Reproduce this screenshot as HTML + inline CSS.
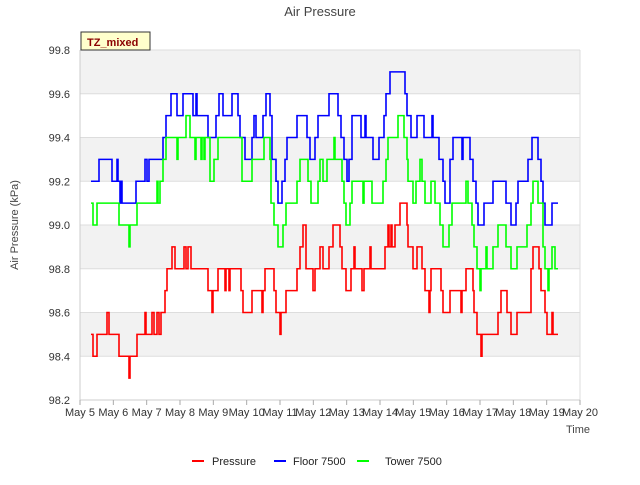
<!DOCTYPE html>
<html><head><meta charset="utf-8"><style>
body{margin:0;background:#fff;font-family:"Liberation Sans",sans-serif}
svg text{font-family:"Liberation Sans",sans-serif}
</style></head><body>
<svg id="chart" width="640" height="480" xmlns="http://www.w3.org/2000/svg">
<text x="320" y="16" text-anchor="middle" font-size="13" fill="#444">Air Pressure</text>
<g id="bands"></g>
<g id="grid"></g>
<g id="yticks"></g>
<g id="xticks"></g>
<g id="series"></g>
<text transform="translate(18,225) rotate(-90)" text-anchor="middle" font-size="11" fill="#444">Air Pressure (kPa)</text>
<text x="566" y="433" font-size="11" fill="#444">Time</text>
<g>
<rect x="81" y="32" width="69" height="18" fill="#ffffcc" stroke="#333" stroke-width="1"/>
<text x="87" y="46" font-size="11" font-weight="bold" fill="#8b0000">TZ_mixed</text>
</g>
<g>
<g><line x1="192" y1="461" x2="204" y2="461" stroke="#ff0000" stroke-width="2"/><text x="212" y="465" font-size="11" fill="#222">Pressure</text></g>
<g><line x1="274" y1="461" x2="286" y2="461" stroke="#0000ff" stroke-width="2"/><text x="293" y="465" font-size="11" fill="#222">Floor 7500</text></g>
<g><line x1="357" y1="461" x2="369" y2="461" stroke="#00ff00" stroke-width="2"/><text x="385" y="465" font-size="11" fill="#222">Tower 7500</text></g>
</g>
</svg>
<script>
const xTickLabels=["May 5","May 6","May 7","May 8","May 9","May 10","May 11","May 12","May 13","May 14","May 15","May 16","May 17","May 18","May 19","May 20"];
const yTickValues=[98.2,98.4,98.6,98.8,99.0,99.2,99.4,99.6,99.8];
const endTime=14.34;
const pressureT=[0.33,0.39,0.51,0.81,0.87,1.17,1.47,1.50,1.71,1.95,1.98,2.16,2.22,2.31,2.37,2.43,2.55,2.61,2.76,2.85,3.12,3.18,3.24,3.33,3.84,3.96,3.99,4.14,4.35,4.38,4.47,4.50,4.83,4.89,5.16,5.46,5.49,5.55,5.82,5.88,6.00,6.03,6.18,6.51,6.60,6.69,6.78,6.99,7.05,7.20,7.29,7.47,7.59,7.80,7.86,7.98,8.13,8.22,8.25,8.46,8.52,8.70,8.73,9.15,9.24,9.27,9.33,9.36,9.45,9.60,9.78,9.81,9.84,9.99,10.11,10.26,10.35,10.47,10.50,10.53,10.83,10.89,11.10,11.43,11.46,11.58,11.79,11.82,11.91,12.03,12.06,12.54,12.63,12.81,12.93,13.11,13.53,13.59,13.77,13.83,13.95,14.01,14.16,14.19];
const pressureV=[98.5,98.4,98.5,98.6,98.5,98.4,98.3,98.4,98.5,98.6,98.5,98.6,98.5,98.6,98.5,98.6,98.7,98.8,98.9,98.8,98.9,98.8,98.9,98.8,98.7,98.6,98.7,98.8,98.7,98.8,98.7,98.8,98.7,98.6,98.7,98.6,98.7,98.8,98.7,98.6,98.5,98.6,98.7,98.8,98.9,99.0,98.8,98.7,98.8,98.9,98.8,98.9,99.0,98.9,98.8,98.7,98.8,98.9,98.8,98.7,98.8,98.9,98.8,98.9,99.0,98.9,99.0,98.9,99.0,99.1,99.1,99.0,98.9,98.8,98.9,98.8,98.7,98.6,98.7,98.8,98.7,98.6,98.7,98.6,98.7,98.8,98.7,98.6,98.5,98.4,98.5,98.6,98.7,98.6,98.5,98.6,98.8,98.9,98.8,98.7,98.6,98.5,98.6,98.5];
const floorT=[0.33,0.57,0.96,1.11,1.14,1.20,1.23,1.26,1.68,1.95,2.01,2.07,2.49,2.58,2.73,2.91,3.09,3.39,3.48,3.51,3.84,4.08,4.17,4.29,4.56,4.74,4.80,4.95,5.16,5.22,5.28,5.49,5.58,5.70,5.76,5.88,5.94,6.06,6.15,6.21,6.51,6.81,6.90,7.05,7.14,7.47,7.74,7.83,7.92,8.01,8.07,8.16,8.43,8.55,8.58,8.79,8.97,9.12,9.18,9.30,9.75,9.81,9.93,10.11,10.32,10.56,10.59,10.77,10.89,10.95,11.10,11.19,11.46,11.49,11.70,11.79,11.88,11.94,12.12,12.39,12.78,12.93,13.08,13.14,13.44,13.56,13.74,13.83,13.89,13.95,14.16];
const floorV=[99.2,99.3,99.2,99.3,99.2,99.1,99.2,99.1,99.2,99.3,99.2,99.3,99.4,99.5,99.6,99.5,99.6,99.5,99.6,99.5,99.4,99.5,99.6,99.5,99.6,99.5,99.4,99.3,99.4,99.5,99.4,99.5,99.6,99.5,99.3,99.2,99.1,99.2,99.3,99.4,99.5,99.4,99.3,99.4,99.5,99.6,99.5,99.4,99.3,99.2,99.3,99.5,99.4,99.5,99.4,99.3,99.4,99.5,99.6,99.7,99.6,99.5,99.4,99.5,99.4,99.5,99.4,99.3,99.2,99.1,99.3,99.4,99.3,99.4,99.3,99.2,99.1,99.0,99.1,99.2,99.1,99.0,99.1,99.2,99.3,99.4,99.3,99.2,99.1,99.0,99.1];
const towerT=[0.33,0.39,0.51,1.17,1.47,1.50,1.71,2.31,2.34,2.40,2.49,2.58,2.91,2.94,3.18,3.30,3.45,3.48,3.63,3.66,3.72,3.75,3.90,4.02,4.14,4.86,5.16,5.52,5.70,5.73,5.82,5.94,6.09,6.18,6.51,6.60,6.84,6.93,7.14,7.20,7.29,7.41,7.62,7.65,7.86,7.92,7.98,8.10,8.16,8.49,8.52,8.76,9.09,9.18,9.24,9.54,9.72,9.81,9.84,9.99,10.08,10.20,10.26,10.35,10.53,10.65,10.80,10.89,11.07,11.16,11.58,11.64,11.76,11.82,11.91,12.00,12.03,12.18,12.21,12.39,12.54,12.78,12.93,13.11,13.41,13.53,13.59,13.74,13.89,13.95,14.04,14.07,14.16,14.25];
const towerV=[99.1,99.0,99.1,99.0,98.9,99.0,99.1,99.2,99.1,99.2,99.3,99.4,99.3,99.4,99.5,99.4,99.3,99.4,99.3,99.4,99.3,99.4,99.2,99.3,99.4,99.2,99.3,99.4,99.3,99.1,99.0,98.9,99.0,99.1,99.2,99.3,99.2,99.1,99.2,99.3,99.2,99.3,99.4,99.3,99.2,99.1,99.0,99.1,99.2,99.1,99.2,99.1,99.2,99.3,99.4,99.5,99.4,99.3,99.2,99.1,99.2,99.3,99.2,99.1,99.2,99.1,99.0,98.9,99.0,99.1,99.2,99.1,99.0,98.9,98.8,98.7,98.8,98.9,98.8,98.9,99.0,98.9,98.8,98.9,99.0,99.1,99.2,99.1,98.9,98.8,98.7,98.8,98.9,98.8];

const NS="http://www.w3.org/2000/svg";
const L=80,R=580,T=50,B=400,ymin=98.2,ymax=99.8,tmax=15;
const xs=t=>L+(R-L)*t/tmax;
const ys=v=>B-(B-T)*(v-ymin)/(ymax-ymin);
function mk(tag,attrs,parent){const e=document.createElementNS(NS,tag);for(const k in attrs)e.setAttribute(k,attrs[k]);parent.appendChild(e);return e;}
const bands=document.getElementById('bands'),grid=document.getElementById('grid'),yt=document.getElementById('yticks'),xt=document.getElementById('xticks'),ser=document.getElementById('series');
for(let i=0;i<yTickValues.length-1;i++){
  const r=mk('rect',{x:L,y:ys(yTickValues[i+1]),width:R-L,height:ys(yTickValues[i])-ys(yTickValues[i+1]),fill:(i%2===1)?'#f2f2f2':'#ffffff'},bands);
  
  
}
yTickValues.forEach(v=>{
  const g=mk('line',{x1:L,x2:R,y1:ys(v),y2:ys(v),stroke:'#dddddd','stroke-width':1},grid);
  
  
  const t=mk('text',{x:L-10,y:ys(v)+4,'text-anchor':'end','font-size':11,fill:'#333'},yt);
  t.textContent=v.toFixed(1);
  
  
});
mk('line',{x1:L,x2:L,y1:T,y2:B,stroke:'#cccccc'},grid);
mk('line',{x1:R,x2:R,y1:T,y2:B,stroke:'#dddddd'},grid);
mk('line',{x1:L,x2:R,y1:B,y2:B,stroke:'#cccccc'},grid);
xTickLabels.forEach((s,i)=>{
  mk('line',{x1:xs(i),x2:xs(i),y1:B,y2:B+5,stroke:'#aaa'},xt);
  const t=mk('text',{x:xs(i),y:B+16,'text-anchor':'middle','font-size':11,fill:'#333'},xt);
  t.textContent=s;
  
  
});
function step(T_,V,color,name){
  let d='M'+xs(T_[0])+','+ys(V[0]);
  for(let i=1;i<T_.length;i++){d+='H'+xs(T_[i])+'V'+ys(V[i]);}
  d+='H'+xs(endTime);
  const p=mk('path',{d:d,fill:'none',stroke:color,'stroke-width':1.6},ser);
  
  
}
step(pressureT,pressureV,'#ff0000','pressure-line');
step(floorT,floorV,'#0000ff','floor-7500-line');
step(towerT,towerV,'#00ff00','tower-7500-line');
</script>
</body></html>
